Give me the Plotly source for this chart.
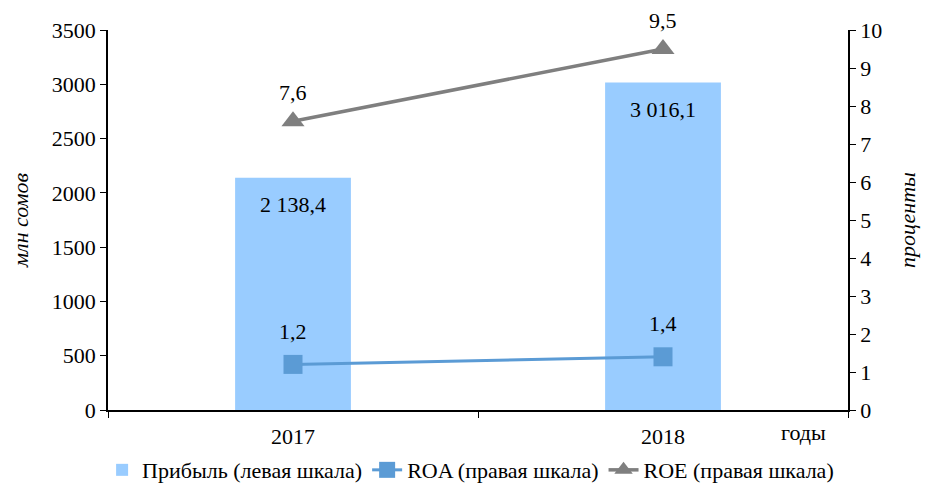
import plotly.graph_objects as go

years = ["2017", "2018"]
profit = [2138.4, 3016.1]
roa = [1.2, 1.4]
roe = [7.6, 9.5]

def fmt(v):
    s = f"{v:,.1f}".replace(",", " ").replace(".", ",")
    return s

FONT = "Liberation Serif"
FS = 22
BAR_C = "#99CCFF"
ROA_C = "#5B9BD5"
ROE_C = "#7F7F7F"

fig = go.Figure()
fig.add_trace(go.Bar(x=years, y=profit, name="Прибыль (левая шкала)",
                     marker=dict(color=BAR_C, line=dict(width=0)), width=0.313,
                     yaxis="y"))
fig.add_trace(go.Scatter(x=years, y=roa, name="ROA (правая шкала)", mode="lines+markers",
                         line=dict(color=ROA_C, width=3),
                         marker=dict(symbol="square", size=19, color=ROA_C),
                         yaxis="y2"))
fig.add_trace(go.Scatter(x=years, y=roe, name="ROE (правая шкала)", mode="lines+markers",
                         line=dict(color=ROE_C, width=3.5),
                         marker=dict(symbol="triangle-up", size=20, color=ROE_C),
                         yaxis="y2"))

tf = dict(family=FONT, size=FS, color="black")
lf = dict(family=FONT, size=22, color="black")
ann = []
for i, v in enumerate(profit):
    ann.append(dict(x=i, y=v, xref="x", yref="y", text=fmt(v), showarrow=False,
                    yshift=-27, font=tf))
for i, v in enumerate(roa):
    ann.append(dict(x=i, y=v, xref="x", yref="y2", text=fmt(v), showarrow=False,
                    yshift=33, font=tf))
for i, v in enumerate(roe):
    ann.append(dict(x=i, y=v, xref="x", yref="y2", text=fmt(v), showarrow=False,
                    yshift=29, font=tf))
ann.append(dict(x=0.94, y=-0.058, xref="paper", yref="paper", text="годы", showarrow=False,
                xanchor="center", yanchor="middle", font=tf))

axis_common = dict(showline=True, linecolor="black", linewidth=1.5, ticks="outside",
                   ticklen=6, tickcolor="black", showgrid=False, zeroline=False,
                   automargin=False, tickfont=tf)

fig.update_layout(
    width=922, height=477,
    margin=dict(l=100, r=82, t=22, b=75, autoexpand=False),
    paper_bgcolor="white", plot_bgcolor="white",
    font=tf,
    xaxis=dict(type="category", tickson="boundaries", range=[-0.5, 1.5],
               ticklabelstandoff=6, **axis_common),
    yaxis=dict(range=[0, 3500], dtick=500,
               title=dict(text="<i>млн сомов</i>", standoff=18, font=tf),
               **axis_common),
    yaxis2=dict(range=[0, 10], dtick=1, overlaying="y", side="right",
                title=dict(text="<i>проценты</i>", standoff=18, font=tf),
                **axis_common),
    legend=dict(orientation="h", x=0.49, xanchor="center", y=-0.158, yanchor="middle",
                font=lf, traceorder="normal", itemwidth=30, bgcolor="rgba(0,0,0,0)"),
    annotations=ann,
    showlegend=True,
)

fig.write_html("out.html")
